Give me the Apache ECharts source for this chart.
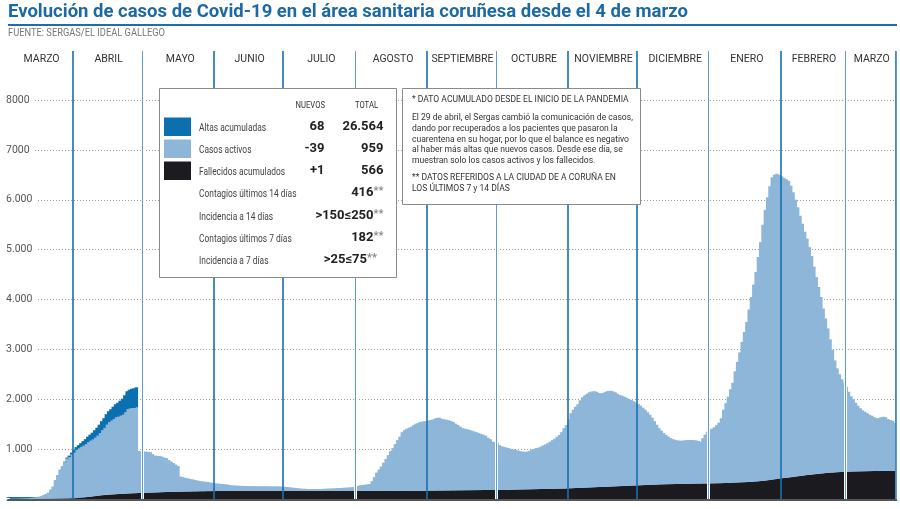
<!DOCTYPE html>
<html><head><meta charset="utf-8">
<script src="https://cdn.jsdelivr.net/npm/echarts@6/dist/echarts.min.js"></script>
<style>html,body{margin:0;padding:0;background:#fff}#c{width:900px;height:509px}</style>
</head><body><div id="c"></div>
<script>
// ---------- DATA ----------
const startDate = [2020, 2, 4]; // 4 de marzo de 2020 (one bar per day)
const monthNames = ['MARZO','ABRIL','MAYO','JUNIO','JULIO','AGOSTO','SEPTIEMBRE','OCTUBRE','NOVIEMBRE','DICIEMBRE','ENERO','FEBRERO','MARZO'];
const yTickLabels = ['', '1.000', '2.000', '3.000', '4.000', '5.000', '6.000', '7000', '8000'];

const activos = [
 3,3,4,5,6,8,10,12,15,20,25,30,37,47,56,78,97,127,186,245,374,473,582,651,730,799,828,876,
 915,967,993,1019,1040,1065,1100,1124,1143,1172,1205,1250,1305,1346,1407,1453,1480,1512,1544,1551,1568,1585,1633,1690,1703,1711,1709,1717,
 840,833,827,825,818,812,770,739,732,725,713,692,680,639,608,576,545,514,303,292,276,265,254,243,232,221,210,199,194,188,182,172,161,
 156,150,145,140,135,130,125,115,110,108,106,104,102,100,100,98,98,96,96,95,95,94,94,93,92,92,91,90,90,88,
 84,79,74,69,64,59,54,49,44,44,39,39,39,39,39,39,39,44,44,49,49,51,54,57,59,61,64,67,71,75,79,
 84,103,113,120,126,130,137,197,277,367,427,487,566,636,716,796,856,936,1016,1085,1175,1215,1245,1265,1285,1314,1344,1364,1379,1388,1393,
 1402,1412,1421,1441,1455,1460,1439,1429,1418,1408,1392,1372,1336,1311,1275,1245,1234,1224,1208,1193,1177,1162,1141,1126,1110,1090,1049,1019,968,958,
 947,897,871,860,845,834,818,807,796,780,769,758,752,756,770,794,808,822,831,850,874,893,917,946,975,1004,1043,1077,1131,1210,1268,
 1386,1504,1572,1630,1678,1756,1814,1852,1880,1908,1921,1924,1912,1885,1878,1886,1904,1917,1920,1908,1886,1854,1827,1810,1788,1766,1739,1717,1690,1663,
 1631,1594,1552,1510,1458,1406,1344,1272,1200,1128,1076,1025,989,953,922,901,885,874,868,865,871,875,876,875,872,866,855,840,909,979,1038,
 1077,1096,1125,1164,1213,1302,1470,1598,1726,1874,2002,2230,2418,2606,2814,3012,3210,3457,3704,3951,4198,4494,4790,5135,5430,5674,5888,6061,6104,6117,6090,
 6055,6020,5984,5948,5842,5706,5550,5394,5218,5052,4886,4740,4565,4380,4165,3950,3745,3540,3305,3101,2897,2673,2459,2246,2083,1960,1858,1786,
 1704,1602,1510,1448,1377,1316,1265,1224,1193,1162,1131,1110,1079,1059,1058,1078,1087,1077,1036,1020,1005,959
];

const fallecidos = [
 0,0,0,0,0,0,0,0,0,0,0,0,1,1,2,2,3,3,4,5,6,7,8,9,10,11,12,14,
 15,18,22,26,30,35,40,46,52,58,65,70,75,79,83,87,90,93,96,99,102,105,107,110,112,114,116,118,
 120,122,123,125,127,128,130,131,133,135,137,138,140,141,142,144,145,146,147,148,149,150,151,152,153,154,155,156,156,157,158,158,159,
 159,160,160,160,160,160,160,160,160,160,160,160,160,160,160,160,160,160,160,160,160,160,160,160,160,160,160,160,160,160,
 161,161,161,161,161,161,161,161,161,161,161,161,161,161,161,161,161,161,161,161,161,161,161,161,161,161,161,161,161,161,161,
 162,162,162,162,162,162,163,163,163,163,163,163,164,164,164,164,164,164,164,165,165,165,165,165,165,166,166,166,166,167,167,
 168,168,169,169,170,170,171,171,172,172,173,173,174,174,175,175,176,176,177,177,178,178,179,179,180,180,181,181,182,182,
 183,183,184,185,185,186,187,188,189,190,191,192,193,194,195,196,197,198,199,200,201,202,203,204,205,206,207,208,209,210,212,
 214,216,218,220,222,224,226,228,230,232,234,236,238,240,242,244,246,248,250,252,254,256,258,260,262,264,266,268,270,272,
 274,276,278,280,282,284,286,288,290,292,294,295,296,297,298,299,300,301,302,303,304,305,306,307,308,309,310,310,311,311,312,
 313,314,315,316,317,318,320,322,324,326,328,330,332,334,336,338,340,343,346,349,352,356,360,365,370,376,382,389,396,403,410,
 415,420,426,432,438,444,450,456,462,468,474,480,485,490,495,500,505,510,515,519,523,527,531,534,537,540,542,544,
 546,548,550,552,553,554,555,556,557,558,559,560,561,561,562,562,563,563,564,565,565,566
];

// Altas acumuladas: only shown until 28 de abril
const altas = [
 0,0,0,0,0,0,0,0,0,0,0,0,0,0,0,0,0,0,0,0,0,0,0,0,10,20,30,40,
 50,55,65,75,90,100,110,120,135,150,160,170,180,195,210,220,230,245,260,280,300,320,340,360,375,385,395,405
];

const legendRows = [
  {name: 'Altas acumuladas', nuevos: '68', total: '26.564'},
  {name: 'Casos activos', nuevos: '-39', total: '959'},
  {name: 'Fallecidos acumulados', nuevos: '+1', total: '566'}
];
const extraRows = [
  ['Contagios últimos 14 días', '416'],
  ['Incidencia a 14 días', '>150≤250'],
  ['Contagios últimos 7 días', '182'],
  ['Incidencia a 7 días', '>25≤75']
];
const noteLines = [
  '* DATO ACUMULADO DESDE EL INICIO DE LA PANDEMIA',
  'El 29 de abril, el Sergas cambió la comunicación de casos,',
  'dando por recuperados a los pacientes que pasaron la',
  'cuarentena en su hogar, por lo que el balance es negativo',
  'al haber más altas que nuevos casos. Desde ese día, se',
  'muestran solo los casos activos y los fallecidos.',
  '** DATOS REFERIDOS A LA CIUDAD DE A CORUÑA EN',
  'LOS ÚLTIMOS 7 y 14 DÍAS'
];
const titleText = 'Evolución de casos de Covid-19 en el área sanitaria coruñesa desde el 4 de marzo';
const sourceText = 'FUENTE: SERGAS/EL IDEAL GALLEGO';

// ---------- BUILD ----------
const COL_ALTAS = '#0b6fb0', COL_ACT = '#8db6d9', COL_FALL = '#1c1b20';
const FONT = 'Roboto, sans-serif';

const dates = [];
const monthStarts = [];
for (let i = 0; i < activos.length; i++) {
  const d = new Date(Date.UTC(startDate[0], startDate[1], startDate[2] + i));
  dates.push(d.toISOString().slice(0, 10));
  if (d.getUTCDate() === 1) monthStarts.push(i);
}
const segStarts = [0].concat(monthStarts);
const headerLabel = new Map();
segStarts.forEach((s, k) => {
  const e = k + 1 < segStarts.length ? segStarts[k + 1] - 1 : dates.length - 1;
  headerLabel.set(Math.round((s + e + 1) / 2), monthNames[k]);
});
const lightMonths = new Set(['05', '08', '10', '01', '03']);
const darkSet = new Set(), lightSet = new Set();
monthStarts.forEach(i => {
  (lightMonths.has(dates[i].slice(5, 7)) ? lightSet : darkSet).add(i);
});

function hiddenY(g) { return {gridIndex: g, type: 'value', show: false, min: 0, max: 1}; }
function lineAxis(g, set, color, width, z) {
  return {gridIndex: g, type: 'category', data: dates, boundaryGap: true, z: z,
    axisLine: {show: false}, axisTick: {show: false}, axisLabel: {show: false},
    splitLine: {show: true, interval: (i) => set.has(i), lineStyle: {color: color, width: width}}};
}

// text element anchored at (x, y); sx = horizontal condensing factor
function T(x, y, text, font, fill, align, sx, rich) {
  const st = {x: 0, y: 0, text: text, font: font, fill: fill,
    align: align || 'left', verticalAlign: 'middle', textAlign: align || 'left', textVerticalAlign: 'middle'};
  if (rich) st.rich = rich;
  return {type: 'text', z: 120, silent: true, x: x, y: y, scaleX: sx || 1, scaleY: 1, style: st};
}

const g = [];
g.push(T(8, 12.5, titleText, 'bold 18.5px ' + FONT, '#1d69a5', 'left', 1));
g.push({type: 'line', z: 110, silent: true, shape: {x1: 8, y1: 25, x2: 897, y2: 25}, style: {stroke: '#1d6eae', lineWidth: 2}});
g.push(T(8, 33.5, sourceText, '10px ' + FONT, '#777', 'left', 0.93));

// legend box
g.push({type: 'rect', z: 100, silent: true, shape: {x: 159.5, y: 88.5, width: 237, height: 189}, style: {fill: '#fff', stroke: '#8a8a8a', lineWidth: 1}});
g.push(T(325, 106, 'NUEVOS', '9px ' + FONT, '#333', 'right', 0.85));
g.push(T(378, 106, 'TOTAL', '9px ' + FONT, '#333', 'right', 0.85));
const swCols = [COL_ALTAS, COL_ACT, COL_FALL];
const rowY = [127, 149, 171];
legendRows.forEach((r, k) => {
  g.push({type: 'rect', z: 110, silent: true, shape: {x: 164, y: rowY[k] - 9.5, width: 27, height: 18.5}, style: {fill: swCols[k]}});
  g.push(T(199, rowY[k] + 1.5, r.name, '10.5px ' + FONT, '#444', 'left', 0.8));
  g.push(T(324.5, rowY[k], r.nuevos, 'bold 13px ' + FONT, '#222', 'right', 1));
  g.push(T(383.5, rowY[k], r.total, 'bold 13px ' + FONT, '#222', 'right', 1));
});
const extraY = [193, 216, 238, 260];
const richV = {
  v: {font: 'bold 13px ' + FONT, fill: '#222', fontWeight: 'bold', fontSize: 13, fontFamily: 'Roboto'},
  s: {font: 'bold 11px ' + FONT, fill: '#888', fontWeight: 'bold', fontSize: 11, fontFamily: 'Roboto', padding: [0, 0, 4, 0]}
};
extraRows.forEach((r, k) => {
  g.push(T(199, extraY[k] + 1.5, r[0], '10.5px ' + FONT, '#444', 'left', 0.8));
  g.push(T(k === 3 ? 377 : 383.5, extraY[k], '{v|' + r[1] + '}{s|**}', 'bold 13px ' + FONT, '#222', 'right', 1, richV));
});

// note box
g.push({type: 'rect', z: 100, silent: true, shape: {x: 402.5, y: 88.5, width: 238, height: 116}, style: {fill: '#fff', stroke: '#8a8a8a', lineWidth: 1}});
const noteY = [100, 118, 128.7, 139.3, 150, 160.7, 178, 188.7];
noteLines.forEach((t, k) => g.push(T(412, noteY[k], t, '9.5px ' + FONT, '#333', 'left', 0.9)));

const barCommon = {type: 'bar', stack: 't', barWidth: 3.4, silent: true};
const option = {
  animation: false,
  backgroundColor: '#fff',
  grid: [
    {left: 8, right: 4, top: 100, bottom: 10},
    {left: 8, right: 4, top: 51, bottom: 9},
    {left: 8, right: 4, top: 51, bottom: 9},
    {left: 8, right: 4, top: 51, bottom: 9},
    {left: 8, right: 4, top: 70, bottom: 9}
  ],
  xAxis: [
    {gridIndex: 0, type: 'category', data: dates, boundaryGap: true, offset: 3,
     axisLine: {show: true, lineStyle: {color: '#1670b0', width: 4}},
     axisTick: {show: false}, axisLabel: {show: false}, splitLine: {show: false}},
    lineAxis(1, darkSet, '#1a6fae', 1.6, 5),
    lineAxis(2, lightSet, '#ffffff', 3, 4),
    lineAxis(3, lightSet, '#5a9dd2', 1, 6),
    {gridIndex: 4, type: 'category', data: dates, boundaryGap: true, position: 'top', z: 6,
     axisLine: {show: true, lineStyle: {color: '#555', width: 2}},
     axisTick: {show: false}, splitLine: {show: false},
     axisLabel: {show: true, interval: (i) => headerLabel.has(i), formatter: (v, i) => headerLabel.get(i) || '',
       margin: 5, fontSize: 10.5, color: '#333', fontFamily: 'Roboto'}}
  ],
  yAxis: [
    {gridIndex: 0, type: 'value', min: 0, max: 8000, interval: 1000,
     axisLine: {show: false}, axisTick: {show: false},
     axisLabel: {inside: true, margin: -2, fontSize: 10.5, color: '#555', fontFamily: 'Roboto',
       backgroundColor: '#fff', padding: [1, 4, 1, 0],
       formatter: (v) => yTickLabels[Math.round(v / 1000)] || ''},
     splitLine: {show: true, lineStyle: {color: '#9a9a9a', type: [1, 2], width: 1}}},
    hiddenY(1), hiddenY(2), hiddenY(3), hiddenY(4)
  ],
  series: [
    Object.assign({name: 'Fallecidos acumulados', data: fallecidos, itemStyle: {color: COL_FALL}}, barCommon),
    Object.assign({name: 'Casos activos', data: activos, itemStyle: {color: COL_ACT}}, barCommon),
    Object.assign({name: 'Altas acumuladas', data: altas, itemStyle: {color: COL_ALTAS}}, barCommon)
  ],
  graphic: {elements: g}
};

const chart = echarts.init(document.getElementById('c'), null, {renderer: 'canvas'});
chart.setOption(option);
</script>
</body></html>
